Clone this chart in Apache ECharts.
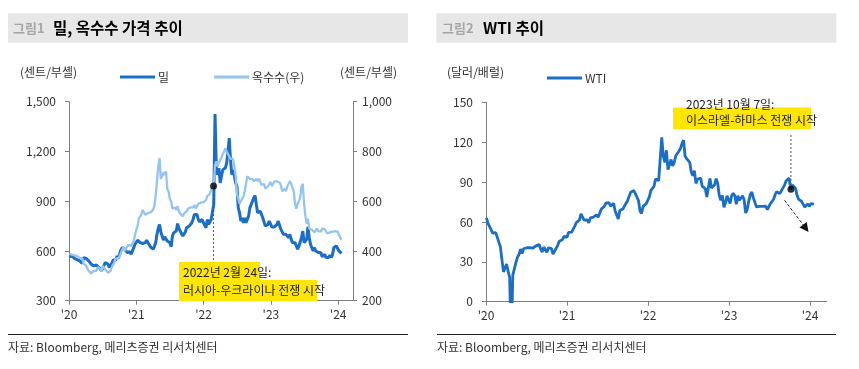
<!DOCTYPE html>
<html><head><meta charset="utf-8">
<script src="https://cdn.jsdelivr.net/npm/echarts@6/dist/echarts.min.js"></script>
<style>html,body{margin:0;padding:0;background:#fff}#c{width:859px;height:369px}</style>
</head><body><div id="c"></div>
<script>
// ---- data (weekly, Fridays from weekStart) ----
const weekStart = '2020-01-03';
const wheat = [
565,560,570,565,555, 550,548,560,540, 530,525,560,570, 555,550,540,530, 520,515,510,505,515, 520,500,490,480, 490,515,530,525,520, 500,495,525,545, 555,545,570,555, 580,605,620,625,610, 600,590,600,595, 580,600,620,640,
640,665,660,650,660, 645,640,650,665, 650,640,625,615, 610,625,650,700,735, 760,715,690,665, 685,695,660,650, 650,625,690,710,705, 720,765,735,720, 720,690,690,715, 740,745,750,755,770, 790,820,830,820, 790,775,780,790,
770, 760,740,790,760, 760,790,790,880, 1425,1090,1060,1100, 1010,1050,1090,1080,1100, 1130,1200,1280,1150, 1060,1090,1050,1010, 990,860,830,780,800, 770,800,770,780, 810,860,860,900,920, 935,880,830,835, 840,820,800,790, 750,750,760,780,
790, 745,735,745,750, 760,780,770,730, 720,700,690,700,695, 680,700,670,650, 640,650,630,610, 630,640,680,720,650, 650,670,745,680, 640,630,600,620, 600,590,590,580,590, 565,570,580,560, 570,560,575,560, 575,620,625,630,
625,600,590,585
];
const corn = [
388,390,385,388,382, 385,380,378,372, 378,370,350,345, 340,330,320,318, 310,318,320,318,320, 335,330,328,318, 340,345,325,318,312, 315,320,335,345, 355,370,375,370, 380,392,405,415,400, 410,418,425,428, 420,425,440,465,
485,500,530,525,548, 565,555,545,550, 552,550,555,560, 565,580,620,680,740, 773,690,700,715, 705,720,650,640, 610,600,570,565,575, 565,580,560,550, 545,540,550,555, 560,570,565,575,580, 575,585,570,580, 590,595,595,600,
595, 600,605,620,625, 630,645,655,665, 745,760,740,755, 750,775,790,800,812, 800,795,780,770, 765,770,740,700, 630,610,590,600,610, 620,640,670,700, 700,690,685,690,680, 685,690,680,690, 680,665,660,670, 650,650,660,665,
678, 660,670,680,683, 680,685,675,665, 640,640,650,640,660, 665,680,670,655, 640,590,570,590, 600,615,660,670,590, 540,510,530,490, 495,485,480,475, 480,490,480,472,478, 490,495,488,480, 470,468,475,470, 478,485,480,482,
478,465,455,445
];
const wti = [
63.0,59.0,58.5,54.2,51.6, 50.3,52.0,53.4,44.8, 41.3,31.7,22.4,21.5, 28.3,22.8,18.3,-37.6, 19.8,24.7,29.4,33.3,35.5, 39.6,36.3,39.8,38.5, 40.6,40.6,40.6,41.3,40.3, 41.2,42.0,42.3,43.0, 39.8,37.3,41.1,40.3, 37.1,40.6,40.9,39.9,35.8, 37.1,40.1,42.4,45.5, 46.3,46.6,49.1,48.2,
48.5,52.2,52.4,52.3,52.2, 56.9,59.5,59.2,61.5, 66.1,65.6,61.4,61.0, 61.5,59.3,63.1,62.1,63.6, 64.9,65.4,63.6,66.3, 69.6,70.9,71.6,74.1, 75.2,74.6,71.8,72.1,74.0, 68.3,68.4,62.3,68.7, 69.3,69.7,72.0,74.0, 75.9,79.4,82.3,83.8,83.6, 81.3,80.8,76.1,68.2, 66.3,71.7,70.9,73.8,
75.2, 78.9,83.8,85.1,86.8, 92.3,93.1,91.1,91.6, 123.7,109.3,104.7,113.9, 99.3,98.3,107.0,102.1,104.7, 109.8,110.5,113.2,115.1, 118.9,121.5,109.6,107.6, 108.4,104.8,97.6,94.7,98.6, 89.0,92.1,90.8,93.1, 86.9,86.8,85.1,78.7,79.5, 92.6,85.6,85.1,87.9, 92.6,89.0,80.1,76.3, 80.0,71.0,74.3,79.6,
80.3, 73.8,79.9,81.6,79.7, 73.4,79.7,76.3,76.3, 79.7,76.7,66.7,69.3,75.7, 80.7,82.5,77.9,76.8, 71.3,70.0,71.7,72.7, 71.7,70.2,71.8,69.2,70.6, 73.9,75.4,77.1,80.6, 82.8,83.2,81.3,79.8, 85.6,87.5,90.8,90.0,93.0, 84.6,87.7,88.8,85.5, 80.5,77.2,75.9,75.5, 74.1,71.2,71.4,73.6,
71.7,73.8,72.7,73.4
];
const yearTicks = [2020, 2021, 2022, 2023, 2024];
const yearLabels = ["'20", "'21", "'22", "'23", "'24"];
const eventLeft = { date: '2022-02-24', value: 661 };   // on corn (right) axis
const eventRight = { date: '2023-10-07', value: 84.6 };

// ---- helpers ----
const DAY = 86400000;
function decYear(t) {
  const d = new Date(t); const y = d.getUTCFullYear();
  const s = Date.UTC(y, 0, 1), e = Date.UTC(y + 1, 0, 1);
  return y + (t - s) / (e - s);
}
const t0 = Date.parse(weekStart + 'T00:00:00Z');
const weekX = wheat.map((_, i) => decYear(t0 + i * 7 * DAY));
const pairs = vals => vals.map((v, i) => [weekX[i], v]);
const evX = s => decYear(Date.parse(s + 'T00:00:00Z'));

const FONT = '"Noto Sans CJK KR", "Noto Sans", sans-serif';
const AX = '#7f7f7f', LAB = '#333333';
const DARK = '#1a6ec8', LIGHT = '#94c5f2';

function xAx(gi, max) {
  return {
    type: 'value', gridIndex: gi, min: 2020, max: max,
    axisLine: { show: true, onZero: false, lineStyle: { color: AX, width: 1 } },
    axisTick: { show: true, customValues: yearTicks, length: 4, lineStyle: { color: AX } },
    axisLabel: { customValues: yearTicks, margin: 8, color: LAB, fontFamily: FONT, fontSize: 12,
      formatter: v => yearLabels[yearTicks.indexOf(Math.round(v))] || '' },
    splitLine: { show: false }
  };
}
function yAx(gi, min, max, interval, pos, margin, comma) {
  return {
    type: 'value', gridIndex: gi, min, max, interval, position: pos,
    axisLine: { show: true, lineStyle: { color: AX, width: 1 } },
    axisTick: { show: true, length: 4, lineStyle: { color: AX } },
    axisLabel: { margin, color: LAB, fontFamily: FONT, fontSize: 12,
      formatter: v => comma ? v.toLocaleString('en-US') : String(v) },
    splitLine: { show: false }
  };
}

const chart = echarts.init(document.getElementById('c'), null, { renderer: 'canvas' });
chart.setOption({
  animation: false,
  backgroundColor: '#fff',
  textStyle: { fontFamily: FONT },
  grid: [
    { left: 69, top: 101.7, width: 284, height: 199 },
    { left: 486, top: 102.3, width: 340.7, height: 199.4 }
  ],
  xAxis: [xAx(0, 2024.22), xAx(1, 2024.206)],
  yAxis: [
    yAx(0, 300, 1500, 300, 'left', 13, true),
    yAx(0, 200, 1000, 200, 'right', 9, true),
    yAx(1, 0, 150, 30, 'left', 13, false)
  ],
  legend: [
    { data: ['밀', '옥수수(우)'], left: 120, top: 71, padding: 0, icon: 'rect', itemWidth: 35, itemHeight: 3, itemGap: 45,
      textStyle: { fontFamily: FONT, fontSize: 12, color: LAB, padding: [0, 0, 0, -2] } },
    { data: ['WTI'], left: 547, top: 72, padding: 0, icon: 'rect', itemWidth: 35, itemHeight: 3,
      textStyle: { fontFamily: FONT, fontSize: 12, color: LAB, padding: [0, 0, 0, -2] } }
  ],
  series: [
    { name: '밀', type: 'line', xAxisIndex: 0, yAxisIndex: 0, data: pairs(wheat), showSymbol: false, symbol: 'none',
      color: DARK, lineStyle: { color: DARK, width: 3 } },
    { name: '옥수수(우)', type: 'line', xAxisIndex: 0, yAxisIndex: 1, data: pairs(corn), showSymbol: false, symbol: 'none',
      color: LIGHT, lineStyle: { color: LIGHT, width: 2.3 } },
    { name: 'evL', type: 'scatter', xAxisIndex: 0, yAxisIndex: 1, data: [[evX(eventLeft.date), eventLeft.value]],
      symbolSize: 7, itemStyle: { color: '#000' }, z: 10 },
    { name: 'WTI', type: 'line', xAxisIndex: 1, yAxisIndex: 2, data: pairs(wti), showSymbol: false, symbol: 'none',
      color: DARK, lineStyle: { color: DARK, width: 2.8 } },
    { name: 'evR', type: 'scatter', xAxisIndex: 1, yAxisIndex: 2, data: [[evX(eventRight.date), eventRight.value]],
      symbolSize: 7, itemStyle: { color: '#000' }, z: 10 }
  ]
});

// ---- decorations ----
const pL = chart.convertToPixel({ seriesIndex: 2 }, [evX(eventLeft.date), eventLeft.value]);
const pR = chart.convertToPixel({ seriesIndex: 4 }, [evX(eventRight.date), eventRight.value]);

function txt(x, y, s, size, color, weight) {
  return { type: 'text', x, y, z: 20, style: { text: s, font: (weight || 'normal') + ' ' + size + 'px ' + FONT,
    fill: color, align: 'left', verticalAlign: 'middle' } };
}
function rect(x, y, w, h, fill) { return { type: 'rect', z: 1, shape: { x, y, width: w, height: h }, style: { fill } }; }
function line(x1, y1, x2, y2, stroke, dash, w) {
  return { type: 'line', z: 5, shape: { x1, y1, x2, y2 }, style: { stroke, lineWidth: w || 1, lineDash: dash || null } };
}
// arrow (right chart)
const a1 = [pR[0] - 6.4, pR[1] + 11], a2 = [pR[0] + 17.6, pR[1] + 42.7];
const dx = a2[0] - a1[0], dy = a2[1] - a1[1], L = Math.hypot(dx, dy), ux = dx / L, uy = dy / L;
const hl = 9, hw = 4.5;
const head = [a2, [a2[0] - ux * hl - uy * hw, a2[1] - uy * hl + ux * hw], [a2[0] - ux * hl + uy * hw, a2[1] - uy * hl - ux * hw]];

const graphics = [
  rect(8, 13.3, 400, 29.4, '#e7e7e7'),
  rect(436.3, 13.3, 400, 29.4, '#e7e7e7'),
  txt(13, 28.5, '그림1', 13, '#a5a5a5', 'bold'),
  txt(53, 28.5, '밀, 옥수수 가격 추이', 15.5, '#000', 'bold'),
  txt(442, 28.5, '그림2', 13, '#a5a5a5', 'bold'),
  txt(483, 28.5, 'WTI 추이', 15.5, '#000', 'bold'),
  txt(20, 72, '(센트/부셸)', 12, LAB),
  txt(340, 72, '(센트/부셸)', 12, LAB),
  txt(447, 72, '(달러/배럴)', 12, LAB),
  line(8, 334.5, 408, 334.5, '#222', null, 1.2),
  line(437, 334.5, 836, 334.5, '#222', null, 1.2),
  txt(8, 347, '자료: Bloomberg, 메리츠증권 리서치센터', 12, LAB),
  txt(437, 347, '자료: Bloomberg, 메리츠증권 리서치센터', 12, LAB),
  // left annotation
  rect(179, 262, 81, 19, '#ffe600'),
  rect(179, 280, 138, 21, '#ffe600'),
  txt(183, 272.5, '2022년 2월 24일:', 12, '#222'),
  txt(183, 290.5, '러시아-우크라이나 전쟁 시작', 12, '#222'),
  line(pL[0], pL[1] + 4, pL[0], 261, '#555', [2, 2]),
  // right annotation
  rect(673, 107.5, 138, 21.5, '#ffe600'),
  txt(686, 104, '2023년 10월 7일:', 12, '#222'),
  txt(686, 120.5, '이스라엘-하마스 전쟁 시작', 12, '#222'),
  line(pR[0], 135, pR[0], pR[1] - 4, '#555', [2, 2]),
  line(a1[0], a1[1], a2[0] - ux * 6, a2[1] - uy * 6, '#222', [3, 2]),
  { type: 'polygon', z: 6, shape: { points: head }, style: { fill: '#111' } }
];
chart.setOption({ graphic: graphics });
</script>
</body></html>
